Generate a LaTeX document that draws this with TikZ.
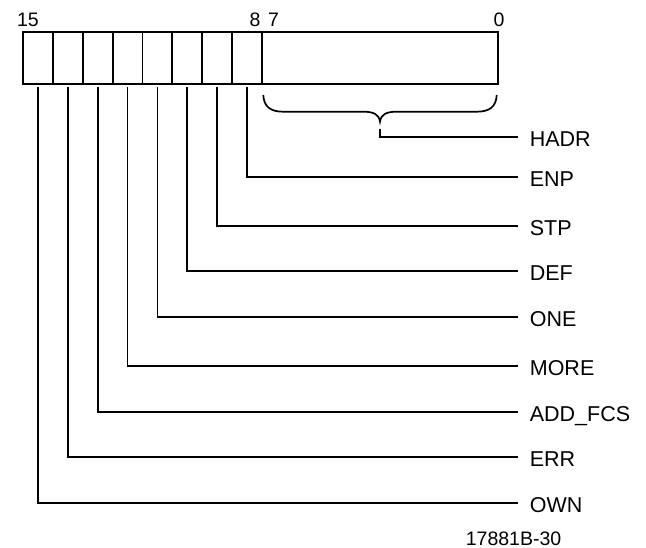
\documentclass[tikz,border=0pt]{standalone}
\usepackage{fontspec}
\setmainfont{Liberation Sans}
\begin{document}
\begin{tikzpicture}[x=1pt , y=-1pt , line width=1.7pt ,
    bitcell/.style={draw , rectangle , minimum width=29.8pt , minimum height=52pt , inner sep=0pt , outer sep=0pt },
    bitnum/.style={anchor=base , inner sep=0pt , font=\fontsize{19.5}{22}\selectfont },
    fieldname/.style={anchor=west , inner xsep=11pt , inner ysep=0pt , text height=19pt , text depth=0pt , font=\fontsize{21.5}{24}\selectfont }]
    \useasboundingbox (0,0) rectangle (646,548);
    % register cells
    \node [bitcell] (own) at (38.2,58) {};
    \node [bitcell] (err) at (68,58) {};
    \node [bitcell] (addfcs) at (97.8,58) {};
    \node [bitcell] (more) at (127.6,58) {};
    \node [bitcell] (one) at (157.4,58) {};
    \node [bitcell] (def) at (187.2,58) {};
    \node [bitcell] (stp) at (217,58) {};
    \node [bitcell] (enp) at (246.8,58) {};
    \node [bitcell , minimum width=236pt ] (hadr) at (379.7,58) {};
    % bit numbers
    \node [bitnum] (n15) at (28,27) {15};
    \node [bitnum] (n8) at (255,27) {8};
    \node [bitnum] (n7) at (273.5,27) {7};
    \node [bitnum] (n0) at (499,27) {0};
    % brace under the low byte
    \draw (263.3,95) .. controls (263.8,107) and (271,111.7) .. (283,111.7) -- (363,111.7)
        .. controls (374,111.7) and (379,114.5) .. (380,121.7)
        .. controls (381,114.5) and (386,111.7) .. (397,111.7) -- (477,111.7)
        .. controls (489,111.7) and (496.2,107) .. (496.7,95);
    \coordinate (tip) at (380,129);
    % field names
    \node [fieldname] (lhadr) at (518,137) {HADR};
    \node [fieldname] (lenp) at (518,176.7) {ENP};
    \node [fieldname] (lstp) at (518,226) {STP};
    \node [fieldname] (ldef) at (518,271) {DEF};
    \node [fieldname] (lone) at (518,316.7) {ONE};
    \node [fieldname] (lmore) at (518,365.7) {MORE};
    \node [fieldname] (laddfcs) at (518,411.7) {ADD\_FCS};
    \node [fieldname] (lerr) at (518,457.3) {ERR};
    \node [fieldname] (lown) at (518,503.3) {OWN};
    % leaders
    \draw (tip) |- (lhadr.west);
    \draw ([yshift=-3pt]enp.south) |- (lenp.west);
    \draw ([yshift=-3pt]stp.south) |- (lstp.west);
    \draw ([yshift=-3pt]def.south) |- (ldef.west);
    \draw ([yshift=-3pt]one.south) |- (lone.west);
    \draw ([yshift=-3pt]more.south) |- (lmore.west);
    \draw ([yshift=-3pt]addfcs.south) |- (laddfcs.west);
    \draw ([yshift=-3pt]err.south) |- (lerr.west);
    \draw ([yshift=-3pt]own.south) |- (lown.west);
    \node [anchor=base west , inner sep=0pt , font=\fontsize{19.5}{22}\selectfont ] (fig) at (465,545.7) {17881B-30};
\end{tikzpicture}
\end{document}
